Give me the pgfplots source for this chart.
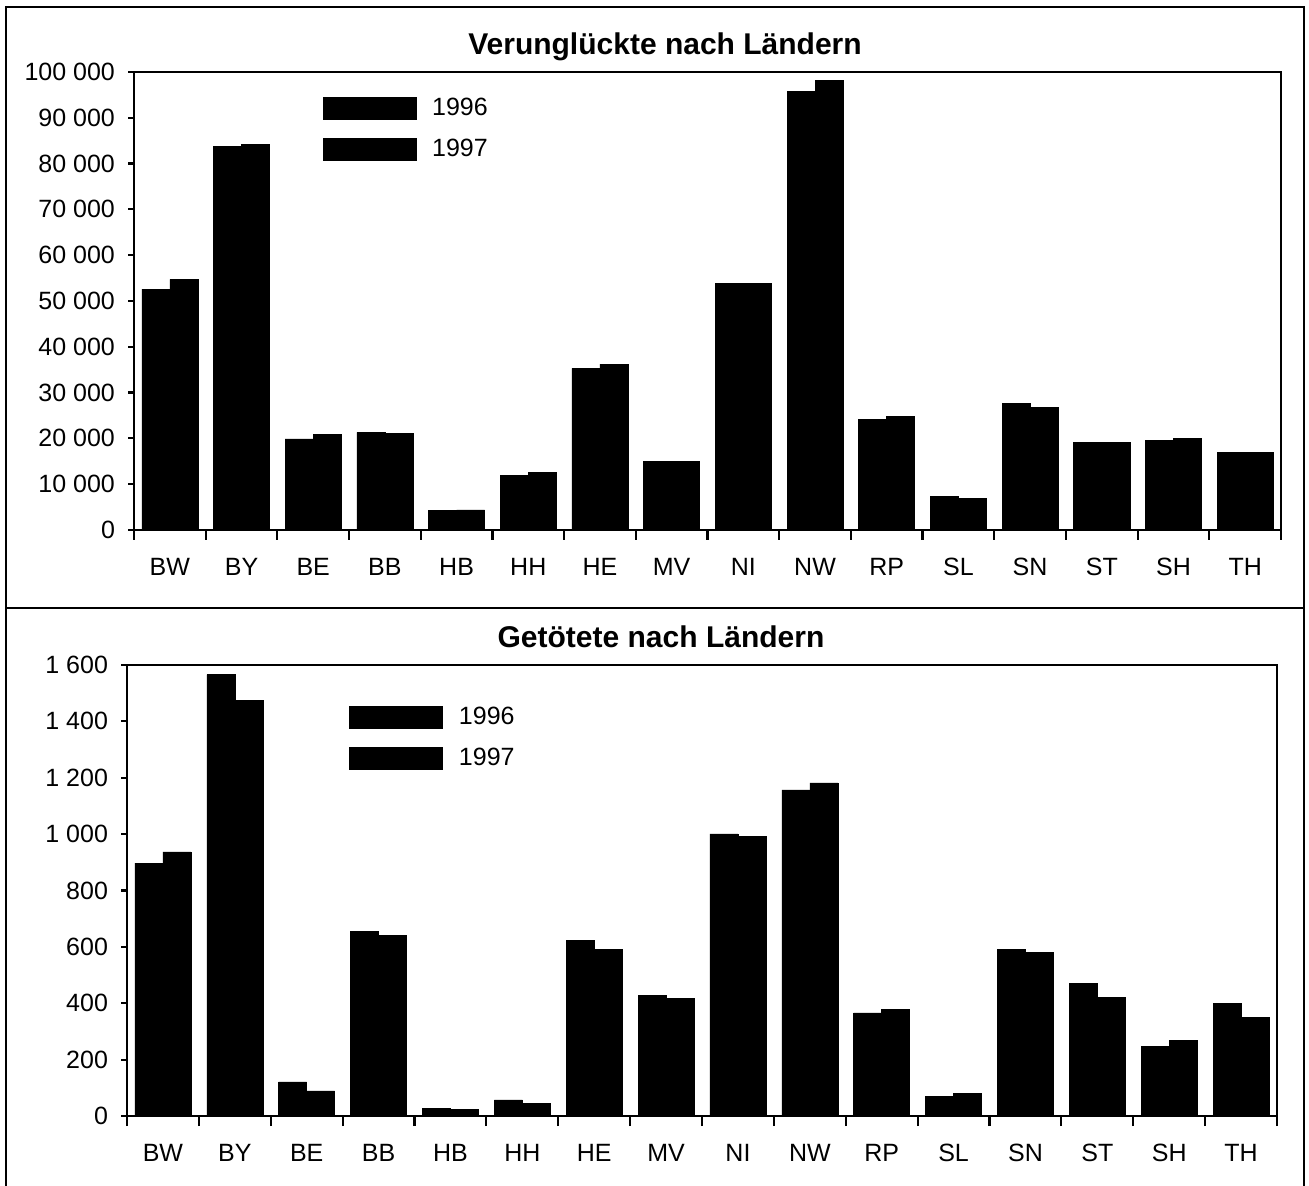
\documentclass[border=0pt]{standalone}
\usepackage{fontspec}
\setmainfont{Liberation Sans}
\usepackage{pgfplots}
\pgfplotsset{compat=1.18}
\begin{document}
\begin{tikzpicture}
\useasboundingbox (0pt,0pt) rectangle (654.5pt,593pt);
\pgfplotsset{
 panel/.style={
  scale only axis, ybar=0pt, bar width=14pt,
  xmin=-0.5, xmax=15.5, ymin=0,
  xtick={0,...,15},
  xticklabels={BW,BY,BE,BB,HB,HH,HE,MV,NI,NW,RP,SL,SN,ST,SH,TH},
  minor xtick={-0.5,0.5,...,15.5},
  major x tick style={draw=none},
  tick align=outside,
  minor tick length=5pt, major tick length=3pt,
  xtick pos=bottom, ytick pos=left,
  axis line style={line width=1.1pt},
  every tick/.style={line width=1.1pt, black},
  tick label style={font=\fontsize{12.5}{14}\selectfont},
  xticklabel style={yshift=-7pt, text height=9pt, text depth=0pt},
  yticklabel style={xshift=-3pt},
  scaled y ticks=false,
  yticklabel={\pgfmathprintnumber[fixed,precision=0,assume math mode=true,1000 sep={\ }]{\tick}},
  legend image code/.code={\fill[black] (0pt,-5.5pt) rectangle (46.5pt,5.5pt);},
  legend style={draw=none, fill=none, inner sep=0pt, anchor=north west,
    font=\fontsize{12.5}{14}\selectfont, row sep=6pt,
    /tikz/every odd column/.style={column sep=6pt}},
  legend cell align=left,
 }
}
% frames
\draw[line width=1.2pt] (3pt,0pt) -- (3pt,589.5pt) -- (652pt,589.5pt) -- (652pt,0pt);
\draw[line width=1.2pt] (3pt,289pt) -- (652pt,289pt);
% titles
\node[font=\bfseries\fontsize{15}{17}\selectfont] at (332.5pt,569.5pt) {Verunglückte nach Ländern};
\node[font=\bfseries\fontsize{15}{17}\selectfont] at (330.5pt,274.5pt) {Getötete nach Ländern};

\begin{axis}[panel, at={(67pt,328pt)}, anchor=south west, width=573.5pt, height=229pt,
  ymax=100000, ytick distance=10000,
  legend style={at={(0.164,0.952)}}]
\addplot[fill=black, draw=black, line width=0.3pt] coordinates {(0,52600) (1,83700) (2,19900) (3,21300) (4,4200) (5,12000) (6,35300) (7,14900) (8,53900) (9,95700) (10,24200) (11,7300) (12,27700) (13,19100) (14,19500) (15,17000)};
\addplot[fill=black, draw=black, line width=0.3pt] coordinates {(0,54700) (1,84200) (2,20800) (3,21100) (4,4400) (5,12600) (6,36200) (7,15000) (8,53900) (9,98100) (10,24800) (11,6900) (12,26800) (13,19100) (14,20000) (15,17000)};
\legend{1996,1997}
\end{axis}

\begin{axis}[panel, at={(63.5pt,35pt)}, anchor=south west, width=575pt, height=225.5pt,
  ymax=1600, ytick distance=200,
  legend style={at={(0.193,0.916)}}]
\addplot[fill=black, draw=black, line width=0.3pt] coordinates {(0,897) (1,1566) (2,121) (3,655) (4,28) (5,57) (6,623) (7,429) (8,1001) (9,1157) (10,366) (11,70) (12,591) (13,469) (14,246) (15,400)};
\addplot[fill=black, draw=black, line width=0.3pt] coordinates {(0,937) (1,1475) (2,89) (3,641) (4,24) (5,46) (6,592) (7,417) (8,992) (9,1182) (10,377) (11,80) (12,579) (13,420) (14,267) (15,351)};
\legend{1996,1997}
\end{axis}
\end{tikzpicture}
\end{document}
